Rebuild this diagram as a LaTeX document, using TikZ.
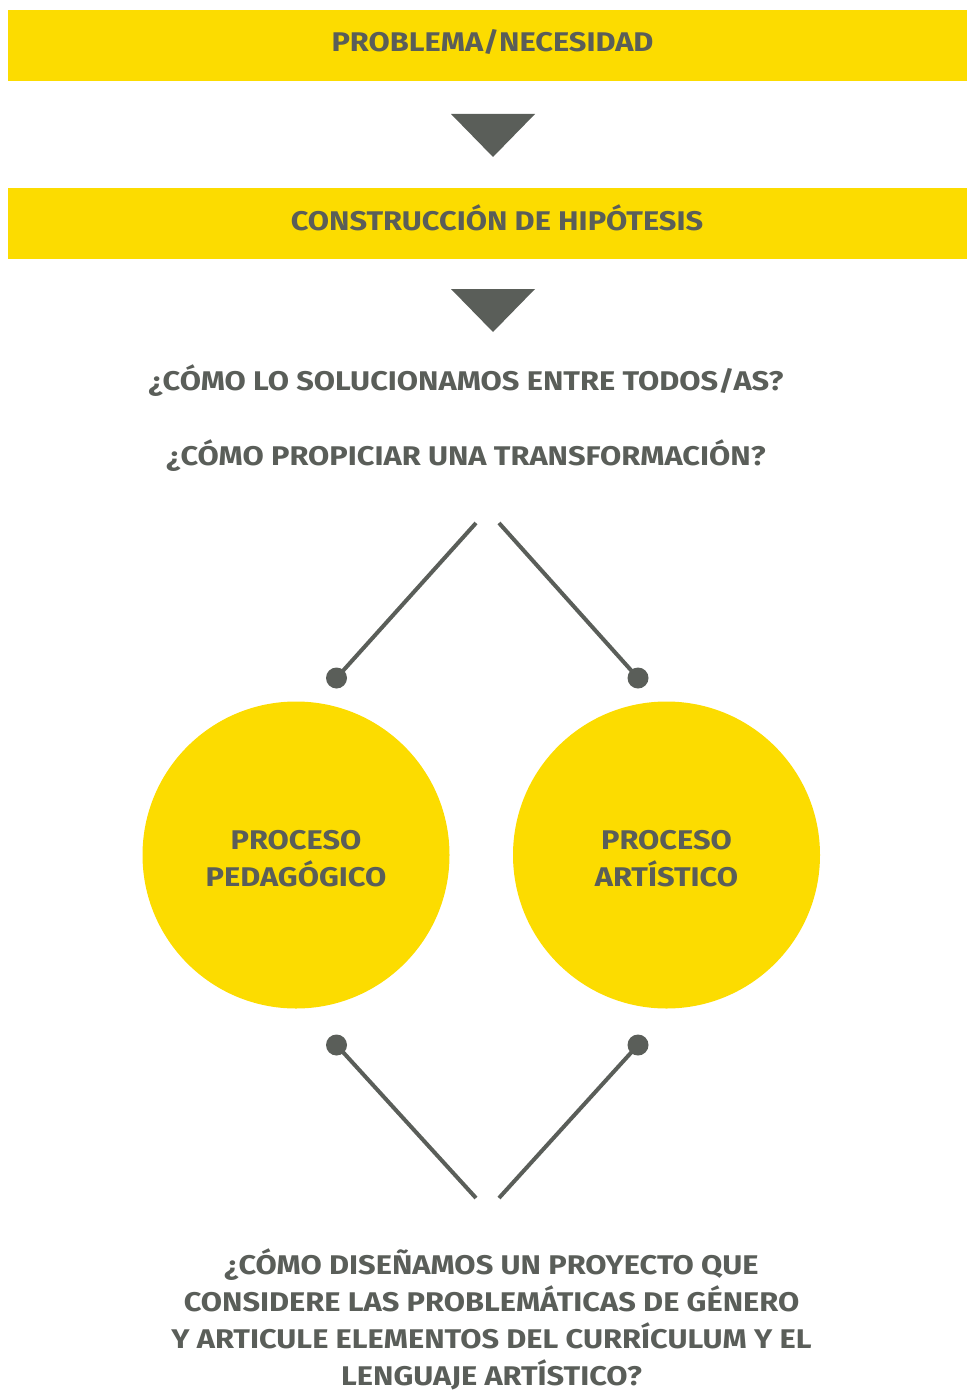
\documentclass[tikz,border=0pt]{standalone}
\usepackage{fontspec}
\setmainfont{Fira Sans}[UprightFont=* Bold,FakeStretch=1.14]
\definecolor{ylw}{HTML}{FCDC00}
\definecolor{gry}{HTML}{5A5E59}
\begin{document}
\begin{tikzpicture}[x=1pt,y=-1pt,
  bar/.style={fill=ylw,inner sep=0pt,minimum width=959pt,minimum height=71pt},
  lbl/.style={text=gry,font=\fontsize{27}{37}\selectfont,align=center,anchor=base,inner sep=0pt},
  bubble/.style={circle,fill=ylw,minimum size=307pt,inner sep=0pt},
  dot/.style={circle,fill=gry,minimum size=21pt,inner sep=0pt},
  tri/.style={fill=gry},
  conn/.style={draw=gry,line width=4pt}]
\useasboundingbox (0,0) rectangle (967,1391);
% bars
\node[bar] (bar1) at (487.5,45.5) {};
\node[lbl] (t1) at (492.5,52) {PROBLEMA/NECESIDAD};
\fill[tri] (451,114) -- (535,114) -- (493,157) -- cycle;
\node[bar] (bar2) at (487.5,223.5) {};
\node[lbl] (t2) at (497,230) {CONSTRUCCIÓN DE HIPÓTESIS};
\fill[tri] (451,289) -- (535,289) -- (493,332) -- cycle;
% questions
\node[lbl] (q1) at (466,390) {¿CÓMO LO SOLUCIONAMOS ENTRE TODOS/AS?};
\node[lbl] (q2) at (466,465) {¿CÓMO PROPICIAR UNA TRANSFORMACIÓN?};
% circles
\node[bubble] (c1) at (296,855) {};
\node[bubble] (c2) at (666.5,855) {};
\node[lbl] (c1t) at (296,886) {PROCESO\\PEDAGÓGICO};
\node[lbl] (c2t) at (666.5,886) {PROCESO\\ARTÍSTICO};
% dots and connectors
\node[dot] (d1) at (336.5,678) {};
\node[dot] (d2) at (638,678) {};
\node[dot] (d3) at (336.5,1045) {};
\node[dot] (d4) at (638,1045) {};
\coordinate (a1) at (476,523);
\coordinate (a2) at (499,523);
\coordinate (b1) at (476,1198);
\coordinate (b2) at (499,1198);
\draw[conn] (a1) -- (d1.center);
\draw[conn] (a2) -- (d2.center);
\draw[conn] (d3.center) -- (b1);
\draw[conn] (d4.center) -- (b2);
% bottom question
\node[lbl] (q3) at (491.5,1385) {¿CÓMO DISEÑAMOS UN PROYECTO QUE\\CONSIDERE LAS PROBLEMÁTICAS DE GÉNERO\\Y ARTICULE ELEMENTOS DEL CURRÍCULUM Y EL\\LENGUAJE ARTÍSTICO?};
\end{tikzpicture}
\end{document}
